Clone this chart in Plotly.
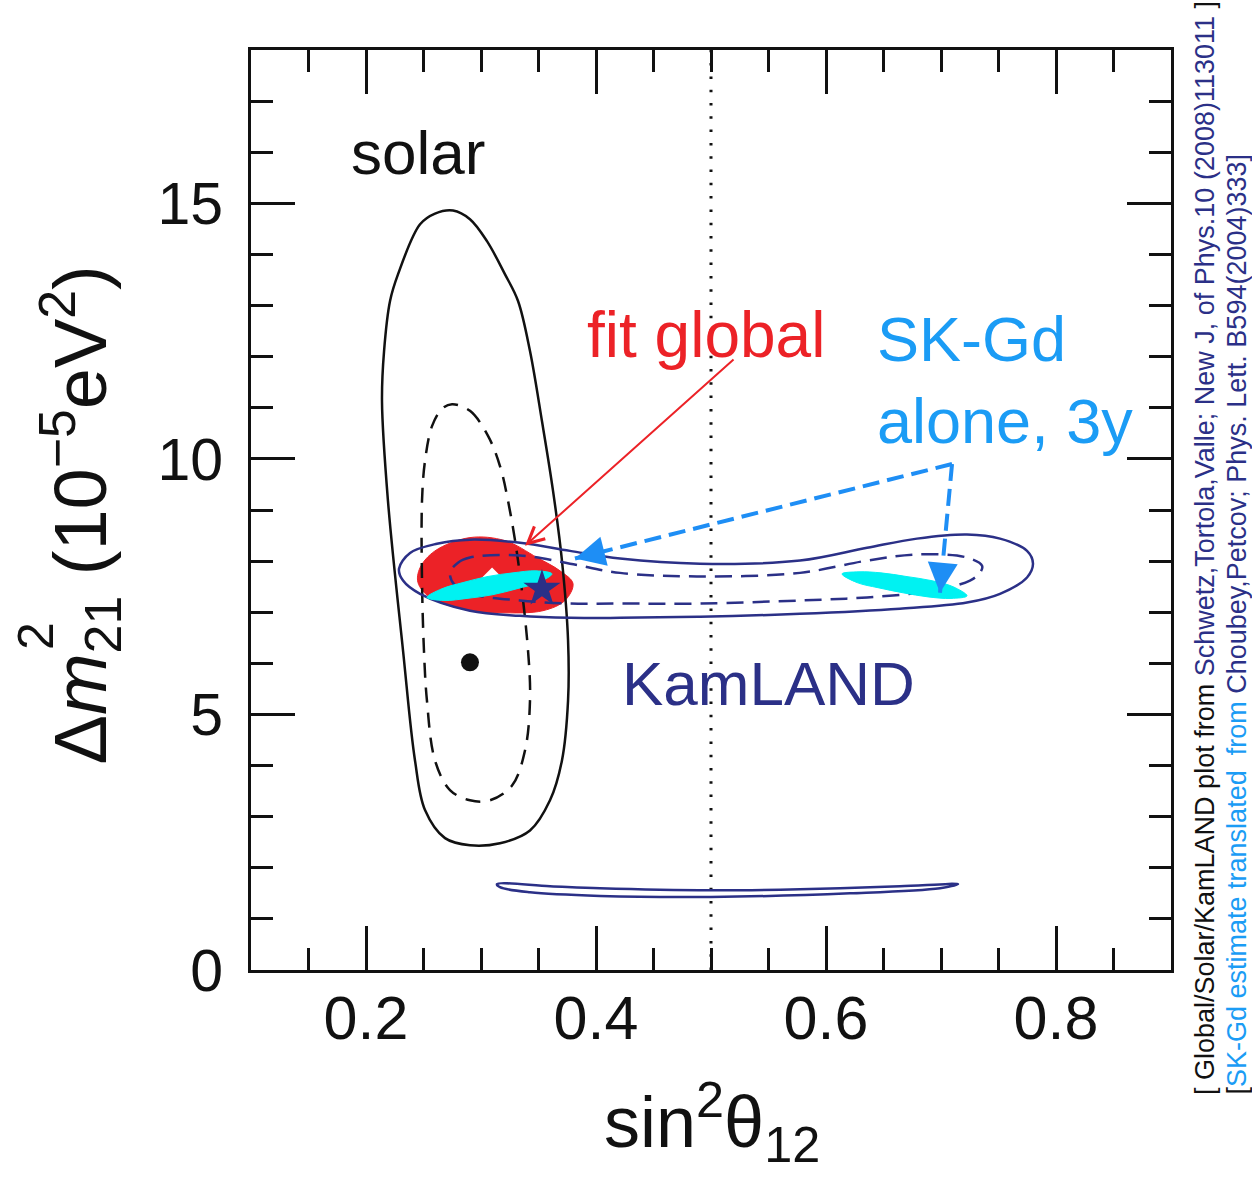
import plotly.graph_objects as go

# ---------------- axis ticks ----------------
x_ticks = [0.2, 0.4, 0.6, 0.8]
x_tick_labels = ["0.2", "0.4", "0.6", "0.8"]
y_ticks = [0, 5, 10, 15]
y_tick_labels = ["0", "5", "10", "15"]

# ---------------- solar allowed regions ----------------
solar_outer_x = [0.2757, 0.2904, 0.3052, 0.3209, 0.3322, 0.3426, 0.3530, 0.3626, 0.3704,
                 0.3757, 0.3757, 0.3704, 0.3600, 0.3426, 0.3165, 0.2904, 0.2687, 0.2513,
                 0.2426, 0.2322, 0.2191, 0.2139, 0.2157, 0.2209, 0.2278, 0.2470, 0.2600, 0.2757]
solar_outer_y = [14.86, 14.69, 14.26, 13.61, 13.09, 12.11, 10.74, 9.38, 8.01,
                 6.45, 5.27, 4.10, 3.32, 2.73, 2.48, 2.44, 2.58, 3.13,
                 4.10, 6.25, 9.18, 11.13, 12.11, 13.09, 13.61, 14.59, 14.80, 14.86]

solar_inner_x = [0.2748, 0.2904, 0.3061, 0.3165, 0.3235, 0.3322, 0.3409, 0.3426, 0.3383,
                 0.3270, 0.3078, 0.2904, 0.2730, 0.2600, 0.2530, 0.2504, 0.2487, 0.2487,
                 0.2513, 0.2574, 0.2661, 0.2748]
solar_inner_y = [11.07, 10.94, 10.45, 9.86, 9.18, 8.01, 6.25, 5.27, 4.30,
                 3.61, 3.32, 3.32, 3.52, 4.10, 5.27, 6.25, 7.62, 9.18,
                 9.96, 10.64, 10.98, 11.07]

solar_best_x = [0.2904]
solar_best_y = [6.02]

# ---------------- KamLAND allowed regions ----------------
kam_outer_x = [0.2287, 0.2383, 0.2617, 0.2904, 0.3339, 0.3774, 0.4209, 0.4904, 0.5774,
               0.6357, 0.6791, 0.7226, 0.7513, 0.7748, 0.7800, 0.7748, 0.7513, 0.7226,
               0.6643, 0.5774, 0.4904, 0.4209, 0.3774, 0.3339, 0.2904, 0.2470, 0.2322, 0.2287]
kam_outer_y = [7.85, 8.16, 8.34, 8.42, 8.36, 8.20, 8.05, 7.95, 8.01,
               8.26, 8.44, 8.52, 8.44, 8.20, 7.95, 7.68, 7.36, 7.19,
               7.07, 6.97, 6.91, 6.89, 6.89, 6.93, 7.03, 7.36, 7.62, 7.85]

kam_inner_x = [0.2730, 0.2800, 0.2904, 0.3339, 0.3774, 0.4209, 0.4904, 0.5774, 0.6357,
               0.6791, 0.7226, 0.7357, 0.7339, 0.7252, 0.6930, 0.6357, 0.5774, 0.4904,
               0.4209, 0.3774, 0.3339, 0.2904, 0.2774, 0.2730]
kam_inner_y = [7.77, 7.97, 8.07, 8.11, 7.95, 7.77, 7.70, 7.77, 8.01,
               8.13, 8.07, 7.91, 7.77, 7.62, 7.42, 7.29, 7.23, 7.17,
               7.17, 7.17, 7.23, 7.36, 7.52, 7.77]

kam_low_x = [0.3139, 0.3600, 0.4035, 0.5000, 0.5774, 0.6643, 0.7148,
             0.6991, 0.6209, 0.5000, 0.4035, 0.3426, 0.3165, 0.3139]
kam_low_y = [1.68, 1.64, 1.60, 1.56, 1.58, 1.64, 1.68,
             1.60, 1.50, 1.43, 1.45, 1.52, 1.62, 1.68]

# ---------------- global fit region ----------------
global_x = [0.2470, 0.2600, 0.2904, 0.3209, 0.3487, 0.3687, 0.3800, 0.3730, 0.3539,
            0.3165, 0.2904, 0.2557, 0.2452, 0.2470]
global_y = [7.87, 8.20, 8.46, 8.40, 8.07, 7.81, 7.56, 7.23, 7.03,
            6.99, 7.03, 7.29, 7.58, 7.87]
global_best_x = [0.3096]
global_best_y = [7.62]
kam_best_x = [0.3530]
kam_best_y = [7.46]

# ---------------- SK-Gd (3 years) estimates ----------------
skgd_a_x = [0.2530, 0.2661, 0.2843, 0.3061, 0.3278, 0.3478, 0.3617,
            0.3496, 0.3313, 0.3096, 0.2878, 0.2678, 0.2530]
skgd_a_y = [7.29, 7.46, 7.58, 7.70, 7.77, 7.81, 7.75,
            7.58, 7.46, 7.34, 7.27, 7.23, 7.29]
skgd_b_x = [0.6139, 0.6287, 0.6478, 0.6696, 0.6913, 0.7104, 0.7226,
            0.7087, 0.6887, 0.6670, 0.6452, 0.6270, 0.6139]
skgd_b_y = [7.75, 7.79, 7.77, 7.70, 7.62, 7.50, 7.32,
            7.27, 7.30, 7.38, 7.48, 7.58, 7.75]

# maximal mixing line
maxmix_x = [0.5, 0.5]
maxmix_y = [0, 18]

# pointer geometry (data coordinates)
fit_arrow_tail = (0.5209, 11.97)
fit_arrow_head = (0.3383, 8.30)
sk_vertex = (0.7096, 9.90)
sk_head_left = (0.3817, 8.05)
sk_head_down = (0.6991, 7.38)

BLACK = "#111111"
NAVY = "#2b3087"
RED = "#ec2227"
SKY = "#1b9cf5"
SKY_ARROW = "#1e8ef5"
CYAN = "#00f2f2"
FONT = "Liberation Sans, Arial, Helvetica, sans-serif"

# plot area in pixels
W, H = 1252, 1179
L, R, T, B = 251, 81, 50, 209
PW, PH = W - L - R, H - T - B


def paper(px, py):
    return (px - L) / PW, (H - B - py) / PH


fig = go.Figure()

# filled global-fit region (underneath everything)
fig.add_trace(go.Scatter(x=global_x, y=global_y, mode="lines", fill="toself",
                         fillcolor=RED, line=dict(color=RED, width=1, shape="spline"),
                         hoverinfo="skip"))
fig.add_trace(go.Scatter(x=global_best_x, y=global_best_y, mode="markers",
                         marker=dict(symbol="diamond", size=20, color="white"),
                         hoverinfo="skip"))

fig.add_trace(go.Scatter(x=maxmix_x, y=maxmix_y, mode="lines",
                         line=dict(color=BLACK, width=3, dash="2.5px,10.8px"),
                         hoverinfo="skip"))

# solar contours
fig.add_trace(go.Scatter(x=solar_outer_x, y=solar_outer_y, mode="lines",
                         line=dict(color=BLACK, width=2.5, shape="spline"), hoverinfo="skip"))
fig.add_trace(go.Scatter(x=solar_inner_x, y=solar_inner_y, mode="lines",
                         line=dict(color=BLACK, width=2.5, shape="spline", dash="15px,10px"),
                         hoverinfo="skip"))

# KamLAND contours
fig.add_trace(go.Scatter(x=kam_outer_x, y=kam_outer_y, mode="lines",
                         line=dict(color=NAVY, width=2.5, shape="spline"), hoverinfo="skip"))
fig.add_trace(go.Scatter(x=kam_inner_x, y=kam_inner_y, mode="lines",
                         line=dict(color=NAVY, width=2.5, shape="spline", dash="17px,9px"),
                         hoverinfo="skip"))
fig.add_trace(go.Scatter(x=kam_low_x, y=kam_low_y, mode="lines",
                         line=dict(color=NAVY, width=2.5, shape="spline"), hoverinfo="skip"))

# SK-Gd estimates
for xs, ys in ((skgd_a_x, skgd_a_y), (skgd_b_x, skgd_b_y)):
    fig.add_trace(go.Scatter(x=xs, y=ys, mode="lines", fill="toself", fillcolor=CYAN,
                             line=dict(color=CYAN, width=1, shape="spline"), hoverinfo="skip"))

# best-fit points
fig.add_trace(go.Scatter(x=kam_best_x, y=kam_best_y, mode="markers",
                         marker=dict(symbol="star", size=28, color=NAVY), hoverinfo="skip"))
fig.add_trace(go.Scatter(x=solar_best_x, y=solar_best_y, mode="markers",
                         marker=dict(symbol="circle", size=18, color=BLACK), hoverinfo="skip"))

# dashed SK-Gd pointers
for head in (sk_head_left, sk_head_down):
    fig.add_trace(go.Scatter(x=[sk_vertex[0], head[0]], y=[sk_vertex[1], head[1]], mode="lines",
                             line=dict(color=SKY_ARROW, width=4, dash="17px,8px"),
                             hoverinfo="skip"))

annotations = []

# arrows
annotations.append(dict(x=fit_arrow_head[0], y=fit_arrow_head[1], xref="x", yref="y",
                        ax=fit_arrow_tail[0], ay=fit_arrow_tail[1], axref="x", ayref="y",
                        text="", showarrow=True, arrowhead=5, arrowsize=1.6,
                        arrowwidth=2, arrowcolor=RED))
for head in (sk_head_left, sk_head_down):
    dx = sk_vertex[0] - head[0]
    dy = sk_vertex[1] - head[1]
    annotations.append(dict(x=head[0], y=head[1], xref="x", yref="y",
                            ax=head[0] + 0.08 * dx, ay=head[1] + 0.08 * dy,
                            axref="x", ayref="y", text="", showarrow=True,
                            arrowhead=2, arrowsize=2, arrowwidth=3, arrowcolor=SKY_ARROW))


def label(text, px, py, size, color, xanchor="center", yanchor="middle", **kw):
    x, y = paper(px, py)
    annotations.append(dict(text=text, x=x, y=y, xref="paper", yref="paper",
                            xanchor=xanchor, yanchor=yanchor, showarrow=False,
                            font=dict(family=FONT, size=size, color=color), **kw))


label("solar", 418, 153, 62, BLACK)
label("fit global", 706, 335, 64, RED)
label("SK-Gd<br>alone, 3y", 875, 380, 63, SKY, xanchor="left", align="left")
label("KamLAND", 768, 683, 62, NAVY)

# axis titles
label("sin<sup>2</sup>θ<sub>12</sub>", 712, 1122, 72, BLACK)
label("Δ<i>m</i><sub>21</sub> (10<sup>−5</sup>eV<sup>2</sup>)", 80, 767, 74, BLACK,
      yanchor="bottom", textangle=-90)
label("2", 36, 636, 50, BLACK, textangle=-90)

# reference notes along the right edge
note_1 = ("[ Global/Solar/KamLAND plot from "
          f"<span style='color:{NAVY}'>Schwetz,Tortola,Valle; New J, of Phys.10 (2008)113011</span> ]")
note_2 = ("["
          f"<span style='color:{SKY}'>SK-Gd estimate translated  from</span>"
          f"<span style='color:{NAVY}'> Choubey,Petcov; Phys. Lett. B594(2004)333]</span>")
label(note_1, 1205, 1097, 27, BLACK, yanchor="bottom", textangle=-90)
label(note_2, 1236, 1097, 27, BLACK, yanchor="bottom", textangle=-90)

axis_common = dict(showgrid=False, zeroline=False, showline=True, linewidth=3,
                   linecolor=BLACK, mirror="ticks", ticks="inside", ticklen=44,
                   tickwidth=2.5, tickcolor=BLACK)

fig.update_layout(
    width=W, height=H,
    margin=dict(l=L, r=R, t=T, b=B),
    paper_bgcolor="white", plot_bgcolor="white",
    showlegend=False,
    xaxis=dict(range=[0.1, 0.9], tickvals=x_ticks, ticktext=x_tick_labels,
               ticklabelstandoff=-7,
               tickfont=dict(family=FONT, size=61, color=BLACK),
               minor=dict(ticks="inside", ticklen=22, tickwidth=2.5, tickcolor=BLACK,
                          dtick=0.05, tick0=0.1, showgrid=False),
               **axis_common),
    yaxis=dict(range=[0, 18], tickvals=y_ticks, ticktext=y_tick_labels,
               ticklabelstandoff=13,
               tickfont=dict(family=FONT, size=59, color=BLACK),
               minor=dict(ticks="inside", ticklen=22, tickwidth=2.5, tickcolor=BLACK,
                          dtick=1, tick0=0, showgrid=False),
               **axis_common),
    annotations=annotations,
)

fig.write_html("out.html")
